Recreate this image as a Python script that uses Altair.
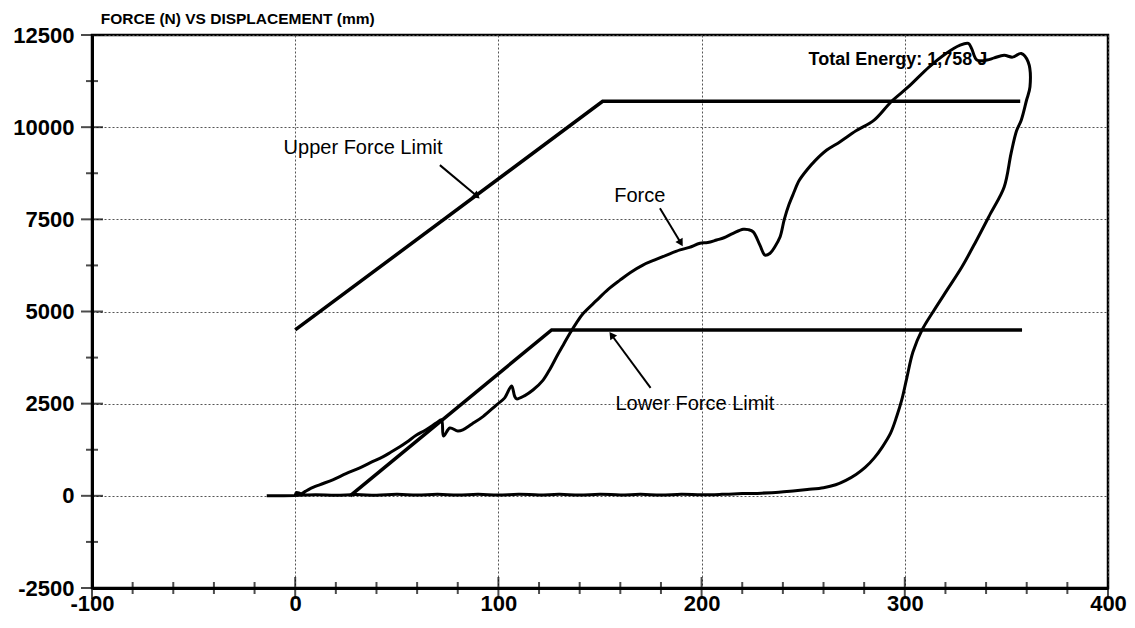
import altair as alt
import pandas as pd

# ---------------- data ----------------
force_x = [0, 0.6, 3, 5, 7.2, 12, 18.5, 25, 31.8, 37, 43.1, 47, 51.5, 55, 59.7, 64, 69.6, 72, 73,
           76.1, 80, 82.5, 87, 92.4, 99.1, 103, 106.5, 108, 109, 113, 117, 122, 125.5, 128.7, 132,
           135.2, 138.5, 141.8, 148.3, 154, 159.8, 165, 171.1, 177, 182.8, 189.4, 194, 199.2, 203,
           207.4, 211, 215.5, 220.5, 223, 225.4, 228.7, 231.2, 233.7, 236, 238.6, 240.7, 243, 245.2,
           248, 251.7, 256, 261.6, 268, 276, 284.9, 293.3, 301.7, 311.9, 320.3, 327, 331.3, 332.9,
           335.5, 340.5, 344, 348.9, 353, 357.3, 360.7, 361.6, 359.9, 357.3, 355, 352.3, 348.9,
           342.2, 335, 328, 321, 314, 308.5, 304, 301, 298.5, 296, 293, 289, 285, 280.5, 276, 271,
           266, 260, 252, 245, 238, 229.5, 220, 210, 200, 190, 180, 170, 160, 150, 140, 130, 120,
           110, 100, 90, 80, 70, 60, 50, 40, 30, 20, 10, 0, -14]
force_y = [0, 90, 60, 120, 190, 300, 434, 600, 760, 900, 1057, 1180, 1330, 1460, 1650, 1780, 1980,
           2060, 1620, 1840, 1760, 1790, 1950, 2150, 2470, 2650, 2980, 2700, 2630, 2720, 2870, 3140,
           3450, 3780, 4100, 4410, 4700, 4950, 5300, 5600, 5850, 6060, 6260, 6400, 6530, 6670, 6740,
           6850, 6870, 6940, 7000, 7120, 7230, 7220, 7160, 6800, 6530, 6580, 6750, 7020, 7500, 7900,
           8200, 8550, 8830, 9100, 9380, 9600, 9900, 10190, 10690, 11090, 11630, 12000, 12220, 12270,
           12130, 11820, 11820, 11880, 11950, 11900, 12000, 11770, 11090, 10730, 10190, 9900, 9290,
           8380, 7660, 6900, 6200, 5600, 5000, 4500, 3900, 3200, 2600, 2150, 1700, 1330, 1030, 770,
           580, 420, 300, 220, 170, 130, 95, 73, 60, 40, 30, 45, 20, 40, 25, 45, 20, 40, 25, 45, 20,
           40, 20, 40, 20, 40, 15, 35, 15, 30, 10, 0]

upper_x = [0, 151.3, 356.8]
upper_y = [4500, 10700, 10700]
lower_x = [27, 126.2, 357.7]
lower_y = [0, 4500, 4500]

label_text = ["Upper Force Limit", "Force", "Lower Force Limit"]
label_x = [33.4, 169.6, 196.7]
label_y = [9430, 8130, 2493]

energy_text = ["Total Energy: 1,758 J"]
energy_x = [296.6]
energy_y = [11820]

arrow_x0 = [71.2, 179.5, 174.9]
arrow_y0 = [8970, 7800, 2927]
arrow_x1 = [89.4, 189.8, 155.7]
arrow_y1 = [8130, 6856, 4363]
arrow_angle = [130, 149, 324]

x_major = [-100, 0, 100, 200, 300, 400]
x_minor = [-80, -60, -40, -20, 20, 40, 60, 80, 120, 140, 160, 180, 220, 240, 260, 280,
           320, 340, 360, 380]
y_major = [-2500, 0, 2500, 5000, 7500, 10000, 12500]
y_minor = [-1250, 1250, 3750, 6250, 8750, 11250]

TITLE = "FORCE (N) VS DISPLACEMENT (mm)"

# ---------------- chart ----------------
FONT = "Liberation Sans, Arial, sans-serif"
xs = alt.Scale(domain=[-100, 400], nice=False, zero=False)
ys = alt.Scale(domain=[-2500, 12500], nice=False, zero=False)

axis_common = dict(
    title=None, labelFont=FONT, labelFontWeight="bold", labelFontSize=22,
    labelColor="black", tickSize=0, domainColor="black", domainWidth=3,
    grid=True, gridColor="#555555", gridDash=[2, 2], gridWidth=1,
    labelExpr="'' + datum.value",
)

def X(field, axis=False):
    if axis:
        return alt.X(field, type="quantitative", scale=xs,
                     axis=alt.Axis(values=x_major, labelPadding=5, labelFlush=False, **axis_common))
    return alt.X(field, type="quantitative", scale=xs, title=None)

def Y(field, axis=False):
    if axis:
        return alt.Y(field, type="quantitative", scale=ys,
                     axis=alt.Axis(values=y_major, labelPadding=18, labelFlush=False, **axis_common))
    return alt.Y(field, type="quantitative", scale=ys, title=None)

force_df = pd.DataFrame({"x": force_x, "y": force_y, "i": list(range(len(force_x)))})
limits_df = pd.DataFrame({
    "x": upper_x + lower_x,
    "y": upper_y + lower_y,
    "s": ["upper"] * len(upper_x) + ["lower"] * len(lower_x),
    "i": list(range(len(upper_x))) + list(range(len(lower_x))),
})
labels_df = pd.DataFrame({"x": label_x, "y": label_y, "t": label_text})
energy_df = pd.DataFrame({"x": energy_x, "y": energy_y, "t": energy_text})
arrows_df = pd.DataFrame({"x": arrow_x0, "y": arrow_y0, "x2": arrow_x1, "y2": arrow_y1,
                          "a": arrow_angle})

base_grid = alt.Chart(pd.DataFrame({"x": [0], "y": [0]})).mark_point(opacity=0).encode(
    x=X("x", axis=True), y=Y("y", axis=True))

limits = alt.Chart(limits_df).mark_line(color="black", strokeWidth=3.5).encode(
    x=X("x"), y=Y("y"), detail="s:N", order="i:Q")

energy = alt.Chart(energy_df).mark_text(
    font=FONT, fontSize=18, fontWeight="bold", color="black").encode(
    x=X("x"), y=Y("y"), text="t:N")

force = alt.Chart(force_df).mark_line(color="black", strokeWidth=3,
                                      interpolate="catmull-rom").encode(
    x=X("x"), y=Y("y"), order="i:Q")

labels = alt.Chart(labels_df).mark_text(font=FONT, fontSize=20, color="black").encode(
    x=X("x"), y=Y("y"), text="t:N")

shafts = alt.Chart(arrows_df).mark_rule(color="black", strokeWidth=2).encode(
    x=X("x"), y=Y("y"), x2="x2:Q", y2="y2:Q")

heads = alt.Chart(arrows_df).mark_point(
    shape="triangle-up", filled=True, color="black", size=70, opacity=1).encode(
    x=X("x2"), y=Y("y2"), angle=alt.Angle("a:Q", scale=None))

xt_major = alt.Chart(pd.DataFrame({"x": x_major})).mark_tick(
    orient="vertical", size=22, thickness=2, color="black").encode(
    x=X("x"), y=alt.datum(-2500))
xt_minor = alt.Chart(pd.DataFrame({"x": x_minor})).mark_tick(
    orient="vertical", size=12, thickness=2, color="black").encode(
    x=X("x"), y=alt.datum(-2500))
yt_major = alt.Chart(pd.DataFrame({"y": y_major})).mark_tick(
    orient="horizontal", size=22, thickness=2, color="black").encode(
    y=Y("y"), x=alt.datum(-100))
yt_minor = alt.Chart(pd.DataFrame({"y": y_minor})).mark_tick(
    orient="horizontal", size=12, thickness=2, color="black").encode(
    y=Y("y"), x=alt.datum(-100))

chart = alt.layer(
    base_grid, limits, energy, force, labels, shafts, heads,
    xt_major, xt_minor, yt_major, yt_minor,
).properties(
    width=1016, height=553,
    autosize=alt.AutoSizeParams(type="none"),
    padding={"left": 84, "top": 27, "right": 19, "bottom": 32},
    title=alt.TitleParams(
        TITLE, anchor="start", dx=88, dy=13, offset=10, fontSize=15.5, fontWeight="bold",
        font="Liberation Sans", color="black"),
    background="white",
).configure_view(stroke="black", strokeWidth=2.5)

chart.save("out.html", embed_options={"renderer": "svg", "actions": False})
